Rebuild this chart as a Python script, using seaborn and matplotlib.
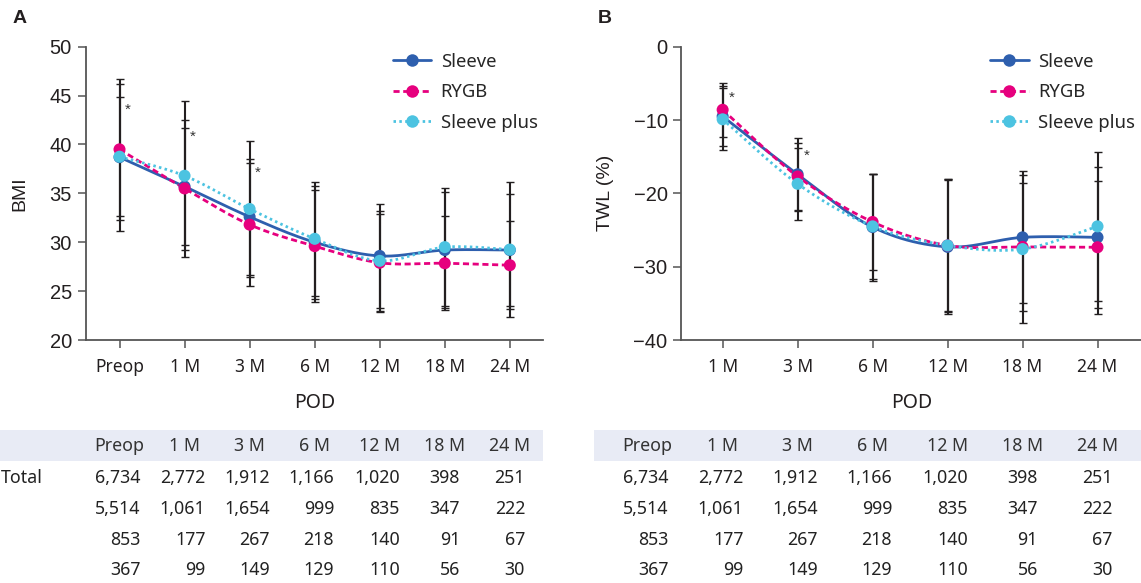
import matplotlib

matplotlib.use("Agg")
import matplotlib.pyplot as plt
import numpy as np
import pandas as pd
import seaborn as sns
from matplotlib.lines import Line2D
from matplotlib.patches import Rectangle

# values
groups = ["Sleeve", "RYGB", "Sleeve plus"]

bmi_pod = ["Preop", "1 M", "3 M", "6 M", "12 M", "18 M", "24 M"]
bmi_sleeve = [38.7, 35.7, 32.6, 30.0, 28.6, 29.2, 29.2]
bmi_rygb = [39.5, 35.5, 31.8, 29.6, 27.9, 27.85, 27.65]
bmi_plus = [38.75, 36.8, 33.4, 30.35, 28.1, 29.5, 29.25]
bmi_sleeve_sd = [7.5, 6.0, 5.9, 5.8, 5.3, 5.9, 5.7]
bmi_rygb_sd = [7.2, 7.0, 6.3, 5.7, 5.0, 4.8, 4.5]
bmi_plus_sd = [6.1, 7.6, 7.0, 5.8, 5.1, 6.0, 6.9]

twl_pod = ["1 M", "3 M", "6 M", "12 M", "18 M", "24 M"]
twl_sleeve = [-9.5, -17.4, -24.6, -27.3, -26.0, -26.0]
twl_rygb = [-8.6, -17.7, -23.9, -27.1, -27.3, -27.35]
twl_plus = [-9.9, -18.7, -24.5, -27.1, -27.6, -24.5]
twl_sleeve_sd = [4.1, 5.0, 7.3, 9.2, 9.0, 9.6]
twl_rygb_sd = [3.7, 4.6, 6.5, 8.9, 8.7, 9.1]
twl_plus_sd = [4.2, 4.9, 7.2, 9.1, 10.1, 10.2]

bmi_stars = ["Preop", "1 M", "3 M"]
bmi_star_y = [43.5, 40.8, 37.1]
twl_stars = ["1 M", "3 M"]
twl_star_y = [-7.0, -14.9]

table_cols = ["Preop", "1 M", "3 M", "6 M", "12 M", "18 M", "24 M"]
n_total = ["6,734", "2,772", "1,912", "1,166", "1,020", "398", "251"]
n_sleeve = ["5,514", "1,061", "1,654", "999", "835", "347", "222"]
n_rygb = ["853", "177", "267", "218", "140", "91", "67"]
n_plus = ["367", "99", "149", "129", "110", "56", "30"]

colors = {"Sleeve": "#2e5fae", "RYGB": "#e6007e", "Sleeve plus": "#4cc3e1"}
styles = {"Sleeve": "-", "RYGB": (0, (2.2, 1.3)), "Sleeve plus": (0, (0.9, 1.2))}
ink = "#231f20"
ui_font = ["Noto Sans", "DejaVu Sans"]
num_font = ["Liberation Sans", "DejaVu Sans"]


def smooth_path(xs, ys, steps=40):
    # spreadsheet-style smoothed connector between the points
    pts = np.column_stack([xs, ys]).astype(float)
    padded = np.vstack([pts[0], pts, pts[-1]])
    pieces = []
    t = np.linspace(0, 1, steps)[:, None]
    for i in range(len(pts) - 1):
        p0, p1, p2, p3 = padded[i], padded[i + 1], padded[i + 2], padded[i + 3]
        c1 = p1 + (p2 - p0) / 6
        c2 = p2 - (p3 - p1) / 6
        seg = (1 - t) ** 3 * p1 + 3 * (1 - t) ** 2 * t * c1 + 3 * (1 - t) * t ** 2 * c2 + t ** 3 * p2
        pieces.append(seg if i == 0 else seg[1:])
    return np.vstack(pieces)


def build_frame(pods, means, sds):
    rows = []
    for group, mean, sd in zip(groups, means, sds):
        for i, pod in enumerate(pods):
            rows.append({"pos": i, "pod": pod, "group": group, "value": mean[i], "sd": sd[i]})
    return pd.DataFrame(rows)


def draw_panel(ax, frame, pods, stars, star_y):
    for group in groups:
        part = frame[frame["group"] == group]
        ax.errorbar(part["pos"], part["value"], yerr=part["sd"], fmt="none", ecolor=ink,
                    elinewidth=1.5, capsize=3, capthick=1.0, zorder=1)
    for group in groups:
        part = frame[frame["group"] == group]
        path = smooth_path(part["pos"].to_numpy(), part["value"].to_numpy())
        ax.plot(path[:, 0], path[:, 1], color=colors[group], linestyle=styles[group],
                linewidth=2.0, zorder=3, dash_capstyle="butt")
    sns.scatterplot(data=frame, x="pos", y="value", hue="group", palette=colors,
                    hue_order=groups, s=75, edgecolor="none", legend=False, zorder=4, ax=ax)
    for pod, y in zip(stars, star_y):
        ax.text(pods.index(pod) + 0.12, y, "*", ha="center", va="center", fontsize=11,
                color="#333333", family=num_font)
    ax.set_xticks(range(len(pods)))
    ax.set_xticklabels(pods, family=ui_font, fontsize=12.5, color=ink)
    ax.set_xlabel("POD", family=ui_font, fontsize=14, color=ink)
    ax.xaxis.set_label_coords(0.5, -0.215)
    ax.xaxis.label.set_verticalalignment("center")
    sns.despine(ax=ax)
    for side in ("left", "bottom"):
        ax.spines[side].set_color("#555555")
        ax.spines[side].set_linewidth(1.3)
    ax.tick_params(axis="both", direction="out", length=6, width=1.1, color="#555555")
    ax.tick_params(axis="x", pad=7)
    ax.tick_params(axis="y", pad=4)
    handles = [Line2D([], [], color=colors[g], linestyle=styles[g], linewidth=2.0,
                      marker="o", markersize=9, markeredgewidth=0) for g in groups]
    ax.legend(handles, groups, loc="upper left", bbox_to_anchor=(0.655, 1.005), frameon=False,
              prop={"family": ui_font, "size": 13.3}, handlelength=2.1, handletextpad=0.5,
              labelspacing=0.68, borderaxespad=0)


def style_y(ax, ticks, label, label_x):
    ax.set_yticks(ticks)
    for tick in ax.get_yticklabels():
        tick.set_family(num_font)
        tick.set_fontsize(14.5)
        tick.set_color(ink)
    ax.set_ylabel(label, family=num_font, fontsize=14, color=ink)
    ax.yaxis.set_label_coords(label_x, 0.5)
    ax.yaxis.label.set_verticalalignment("center")


def draw_table(fig, ax, cols, first_pos, band, label_total):
    fig.patches.append(Rectangle((band[0], 0.2093), band[1] - band[0], 0.0531,
                                 transform=fig.transFigure, facecolor="#e8ebf5",
                                 edgecolor="none", zorder=-5))
    trans = (ax.transData, fig.transFigure)
    header_y = 0.235
    row_y = [0.180, 0.127, 0.0738, 0.0223]
    right_off = [15, 15, 14.5, 14, 14.5, 11, 11]
    for j, col in enumerate(cols):
        ax.annotate(col, xy=(first_pos + j, header_y), xycoords=trans, ha="center",
                    va="center", family=ui_font, fontsize=12.8, color="#333333",
                    annotation_clip=False)
        for y, row in zip(row_y, [n_total, n_sleeve, n_rygb, n_plus]):
            ax.annotate(row[j], xy=(first_pos + j, y), xycoords=trans, xytext=(right_off[j], 0),
                        textcoords="offset points", ha="right", va="center", family=ui_font,
                        fontsize=12.8, color="#222222", annotation_clip=False)
    if label_total:
        fig.text(0.001, row_y[0], "Total", ha="left", va="center", family=ui_font,
                 fontsize=12.8, color="#222222")


sns.set_theme(style="ticks")
plt.rcParams["font.family"] = ui_font

fig = plt.figure(figsize=(11.41, 5.83), dpi=100)
ax_a = fig.add_axes([0.0751, 0.4168, 0.4008, 0.5031])
ax_b = fig.add_axes([0.5972, 0.4168, 0.4028, 0.5031])

bmi = build_frame(bmi_pod, [bmi_sleeve, bmi_rygb, bmi_plus], [bmi_sleeve_sd, bmi_rygb_sd, bmi_plus_sd])
draw_panel(ax_a, bmi, bmi_pod, bmi_stars, bmi_star_y)
ax_a.set_xlim(-0.52, len(bmi_pod) - 0.49)
ax_a.set_ylim(20, 50)
style_y(ax_a, [20, 25, 30, 35, 40, 45, 50], "BMI", -0.145)

twl = build_frame(twl_pod, [twl_sleeve, twl_rygb, twl_plus], [twl_sleeve_sd, twl_rygb_sd, twl_plus_sd])
draw_panel(ax_b, twl, twl_pod, twl_stars, twl_star_y)
ax_b.set_xlim(-0.55, len(twl_pod) - 0.42)
ax_b.set_ylim(-40, 0)
style_y(ax_b, [-40, -30, -20, -10, 0], "TWL (%)", -0.165)

fig.text(0.0175, 0.969, "A", ha="center", va="center", family=num_font, fontsize=14,
         fontweight="bold", color=ink)
fig.text(0.530, 0.969, "B", ha="center", va="center", family=num_font, fontsize=14,
         fontweight="bold", color=ink)

draw_table(fig, ax_a, table_cols, 0, (0.0, 0.476), True)
draw_table(fig, ax_b, table_cols, -1, (0.5206, 1.0), False)

fig.savefig("out.png", dpi=100)
